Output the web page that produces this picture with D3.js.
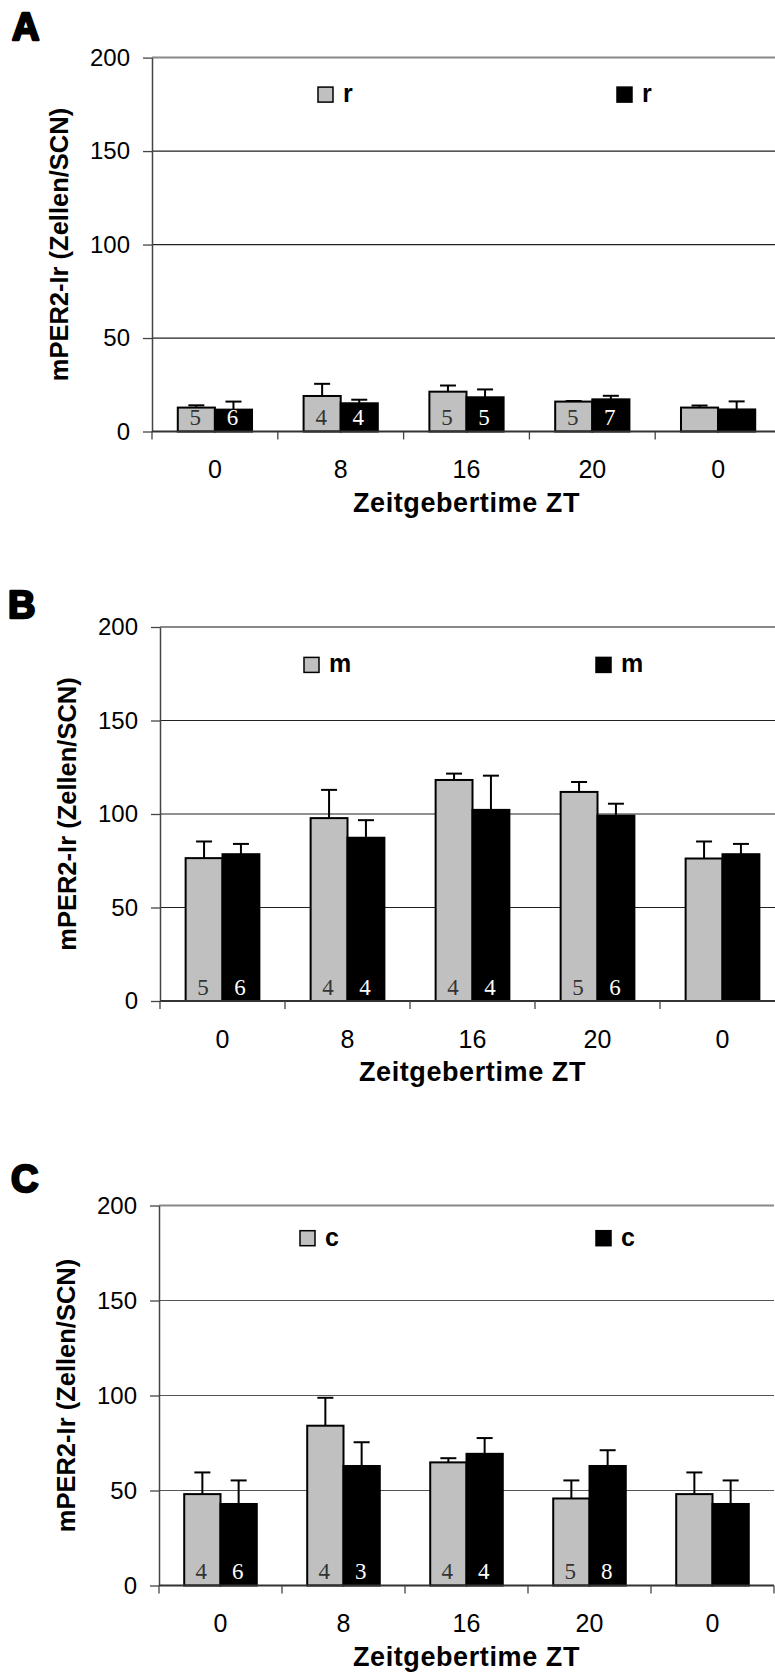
<!DOCTYPE html>
<html>
<head>
<meta charset="utf-8">
<script src="https://cdn.jsdelivr.net/npm/d3@7"></script>
<style>
  body { margin: 0; background: #fff; }
  svg { display: block; }
</style>
</head>
<body>
<svg id="chart"></svg>
<script>
// Zeitgebertime categories (last one repeats ZT 0)
const ztLabels = ["0", "8", "16", "20", "0"];
const yTicks = [0, 50, 100, 150, 200];
const seriesKeys = ["gray", "black"];

// Panel A (r)
const meanA_gray  = [12.8, 19.0, 21.3, 16.0, 12.8];
const semA_gray   = [1.2, 6.5, 3.3, 0.3, 1.1];
const meanA_black = [11.7, 15.1, 18.3, 17.2, 11.8];
const semA_black  = [4.3, 1.9, 4.2, 1.9, 4.3];
const nA_gray  = [5, 4, 5, 5, null];
const nA_black = [6, 4, 5, 7, null];

// Panel B (m)
const meanB_gray  = [76.4, 97.8, 118.2, 111.8, 76.2];
const semB_gray   = [8.9, 15.1, 3.4, 5.3, 9.1];
const meanB_black = [78.5, 87.3, 102.2, 99.1, 78.5];
const semB_black  = [5.5, 9.4, 18.3, 6.4, 5.5];
const nB_gray  = [5, 4, 4, 5, null];
const nB_black = [6, 4, 4, 6, null];

// Panel C (c)
const meanC_gray  = [48.1, 84.1, 64.8, 45.8, 48.1];
const semC_gray   = [11.4, 14.7, 2.2, 9.5, 11.4];
const meanC_black = [42.9, 62.9, 69.3, 62.9, 42.9];
const semC_black  = [12.4, 12.5, 8.3, 8.3, 12.4];
const nC_gray  = [4, 4, 4, 5, null];
const nC_black = [6, 3, 4, 8, null];

const panels = [
  { letter: "A", tag: "r", x0: 152, top: 57.6, bottom: 431.5, band: 125.8, legX: [166, 465], legY: 29.5, letterX: 12, letterY: 40, grid: "#222",
    mean: [meanA_gray, meanA_black], sem: [semA_gray, semA_black], n: [nA_gray, nA_black] },
  { letter: "B", tag: "m", x0: 160, top: 627, bottom: 1001, band: 125, legX: [144, 436], legY: 30.4, letterX: 8, letterY: 617.5, grid: "#222",
    mean: [meanB_gray, meanB_black], sem: [semB_gray, semB_black], n: [nB_gray, nB_black] },
  { letter: "C", tag: "c", x0: 159, top: 1205.5, bottom: 1585.5, band: 123, legX: [141, 437], legY: 25.2, letterX: 11, letterY: 1192, grid: "#555",
    mean: [meanC_gray, meanC_black], sem: [semC_gray, semC_black], n: [nC_gray, nC_black] }
];

const fills = { gray: "#c0c0c0", black: "#000" };
const sans = "'Liberation Sans', Arial, sans-serif";
const serif = "'Liberation Serif', 'Times New Roman', serif";

const svg = d3.select("#chart").attr("width", 775).attr("height", 1673);

panels.forEach(p => {
  const g = svg.append("g");
  const width = p.band * ztLabels.length;

  const y = d3.scaleLinear().domain([0, 200]).range([p.bottom, p.top]);
  const x = d3.scaleBand().domain(d3.range(ztLabels.length)).range([p.x0, p.x0 + width]).padding(0);
  const xs = d3.scaleBand().domain(seriesKeys).range([p.band * 0.205, p.band * 0.795]).padding(0);

  // panel letter
  g.append("text")
    .attr("x", p.letterX).attr("y", p.letterY)
    .style("font-family", sans).style("font-weight", "bold").style("font-size", "38px")
    .attr("stroke", "#000").attr("stroke-width", 2.4).attr("stroke-linejoin", "round")
    .text(p.letter);

  // grid lines
  g.selectAll("line.grid")
    .data(yTicks.filter(t => t > 0))
    .enter().append("line")
      .attr("class", "grid")
      .attr("x1", p.x0).attr("x2", p.x0 + width)
      .attr("y1", d => y(d)).attr("y2", d => y(d))
      .attr("stroke", d => d === 200 ? "#888" : p.grid)
      .attr("stroke-width", d => d === 200 ? 2 : 1.2);

  // y axis
  const yAxis = g.append("g")
    .attr("transform", `translate(${p.x0},0)`)
    .call(d3.axisLeft(y).tickValues(yTicks).tickSize(9).tickSizeOuter(0).tickPadding(13));
  yAxis.select(".domain").attr("stroke", "#444").attr("stroke-width", 1.5);
  yAxis.selectAll(".tick line").attr("stroke", "#444").attr("stroke-width", 1.3);
  yAxis.selectAll(".tick text")
    .style("font-family", sans).style("font-size", "24px").attr("fill", "#000");

  // bars
  seriesKeys.forEach((key, si) => {
    const vals = p.mean[si].map((v, i) => ({ i, v, e: p.sem[si][i], n: p.n[si][i] }));

    g.selectAll(`rect.bar-${key}`)
      .data(vals)
      .enter().append("rect")
        .attr("class", `bar-${key}`)
        .attr("x", d => x(d.i) + xs(key))
        .attr("width", xs.bandwidth())
        .attr("y", d => y(d.v))
        .attr("height", d => y(0) - y(d.v))
        .attr("fill", fills[key])
        .attr("stroke", "#000")
        .attr("stroke-width", 2);

    // error bars (upper only)
    const cx = d => x(d.i) + xs(key) + xs.bandwidth() / 2;
    g.selectAll(`line.err-${key}`)
      .data(vals)
      .enter().append("line")
        .attr("class", `err-${key}`)
        .attr("x1", cx).attr("x2", cx)
        .attr("y1", d => y(d.v)).attr("y2", d => y(d.v + d.e))
        .attr("stroke", "#000").attr("stroke-width", 2);
    g.selectAll(`line.cap-${key}`)
      .data(vals)
      .enter().append("line")
        .attr("class", `cap-${key}`)
        .attr("x1", d => cx(d) - 8).attr("x2", d => cx(d) + 8)
        .attr("y1", d => y(d.v + d.e)).attr("y2", d => y(d.v + d.e))
        .attr("stroke", "#000").attr("stroke-width", 2);

    // n labels inside bars
    g.selectAll(`text.n-${key}`)
      .data(vals.filter(d => d.n != null))
      .enter().append("text")
        .attr("class", `n-${key}`)
        .attr("x", d => cx(d) - 1)
        .attr("y", y(0) - 6.5)
        .attr("text-anchor", "middle")
        .style("font-family", serif).style("font-size", "23px")
        .attr("fill", key === "black" ? "#fff" : "#333")
        .text(d => d.n);
  });

  // x axis line + boundary ticks
  g.append("line")
    .attr("x1", p.x0).attr("x2", p.x0 + width)
    .attr("y1", y(0)).attr("y2", y(0))
    .attr("stroke", "#333").attr("stroke-width", 2);
  const bounds = d3.range(ztLabels.length + 1).map(i => p.x0 + i * x.step());
  g.selectAll("line.xtick")
    .data(bounds)
    .enter().append("line")
      .attr("class", "xtick")
      .attr("x1", d => d).attr("x2", d => d)
      .attr("y1", y(0)).attr("y2", y(0) + 8)
      .attr("stroke", "#444").attr("stroke-width", 1.3);

  // x tick labels
  const xAxis = g.append("g")
    .attr("transform", `translate(0,${y(0)})`)
    .call(d3.axisBottom(x).tickSize(0).tickFormat(i => ztLabels[i]));
  xAxis.select(".domain").remove();
  xAxis.selectAll(".tick text")
    .attr("y", 46.5).attr("dy", null)
    .style("font-family", sans).style("font-size", "25px").attr("fill", "#000");

  // axis titles
  g.append("text")
    .attr("x", p.x0 + width / 2).attr("y", y(0) + 80)
    .attr("text-anchor", "middle")
    .style("font-family", sans).style("font-weight", "bold").style("font-size", "27px")
    .style("letter-spacing", "0.6px")
    .text("Zeitgebertime ZT");

  g.append("text")
    .attr("transform", `translate(${p.x0 - 84},${(p.top + p.bottom) / 2}) rotate(-90)`)
    .attr("text-anchor", "middle")
    .style("font-family", sans).style("font-weight", "bold").style("font-size", "25.5px")
    .text("mPER2-Ir (Zellen/SCN)");

  // legend
  seriesKeys.forEach((key, si) => {
    const lx = p.x0 + p.legX[si];
    const ly = p.top + p.legY;
    g.append("rect")
      .attr("x", lx).attr("y", ly).attr("width", 15).attr("height", 15)
      .attr("fill", fills[key]).attr("stroke", "#000").attr("stroke-width", 1.5);
    g.append("text")
      .attr("x", lx + 25).attr("y", ly + 15)
      .style("font-family", sans).style("font-weight", "bold").style("font-size", "25px")
      .text(p.tag);
  });
});
</script>
</body>
</html>
